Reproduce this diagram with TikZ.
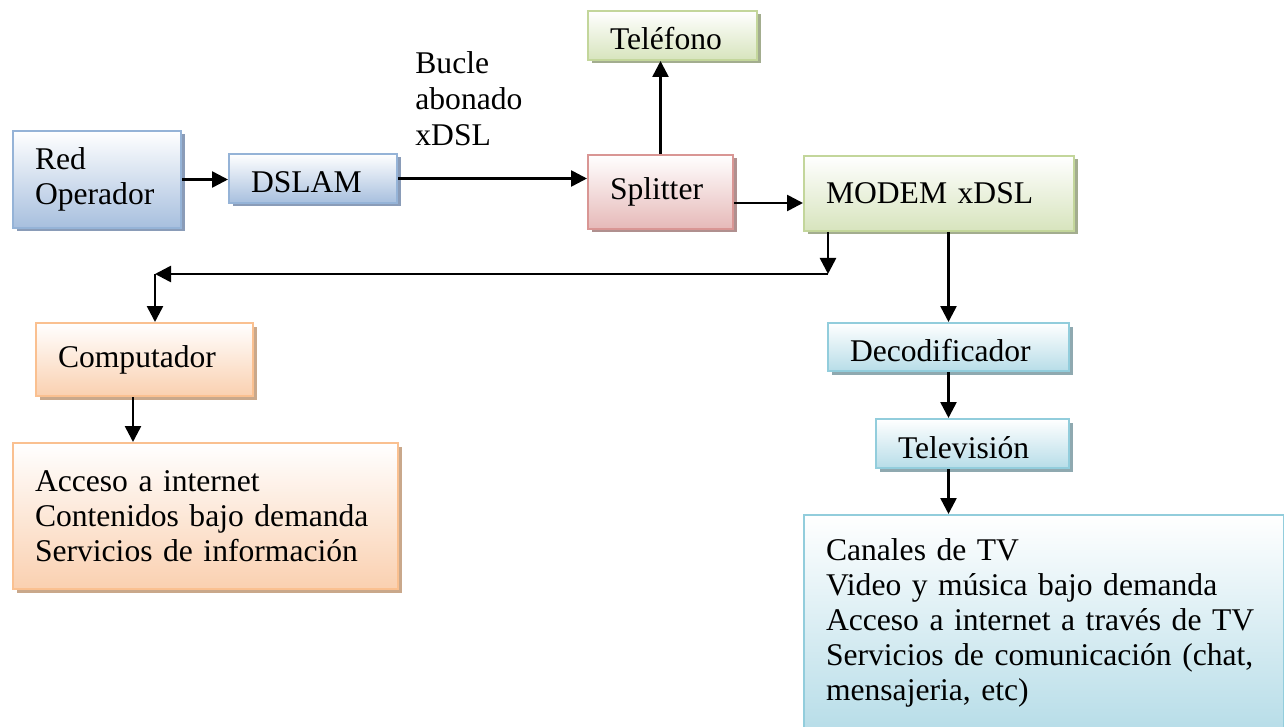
\documentclass[tikz,border=0pt]{standalone}
\usepackage{fontspec}
\setmainfont{Liberation Serif}
\usetikzlibrary{positioning, arrows.meta, shadows}

\definecolor{azulB}{HTML}{95B3D7}
\definecolor{azulF}{HTML}{A7BFDE}
\definecolor{azulS}{HTML}{8A9CB8}
\definecolor{rojoB}{HTML}{D99694}
\definecolor{rojoF}{HTML}{E6B9B8}
\definecolor{rojoS}{HTML}{B0908F}
\definecolor{verdeB}{HTML}{C3D69B}
\definecolor{verdeF}{HTML}{D7E4BD}
\definecolor{verdeS}{HTML}{A3AD8F}
\definecolor{naranjaB}{HTML}{FAC090}
\definecolor{naranjaF}{HTML}{FAD0B0}
\definecolor{naranjaS}{HTML}{C9A88B}
\definecolor{aguaB}{HTML}{92CDDC}
\definecolor{aguaF}{HTML}{B7DDE8}
\definecolor{aguaS}{HTML}{8FA9B0}

\tikzset{
    caja/.style={rectangle, draw=#1B, line width=1pt, top color=white, bottom color=#1F,
        drop shadow={fill=#1S, opacity=1, shadow xshift=1.75pt, shadow yshift=-1.75pt},
        anchor=north west, align=left, inner xsep=11pt, inner ysep=0pt,
        font=\fontsize{15.8}{17.5}\selectfont},
    bajo/.style={text height=14.5pt, text depth=0pt},
    flecha/.style={line width=1.3pt, -{Triangle[length=8pt,width=8pt]}}
}

\begin{document}
\begin{tikzpicture}[x=0.5pt, y=-0.5pt]
    \useasboundingbox (0,0) rectangle (1284,727);
    \clip (0,0) rectangle (1284,727);

    % cajas
    \node[caja=azul, text width=62pt, minimum height=48.5pt] (red) at (12,130) {Red\\Operador};
    \node[caja=azul, bajo, text width=62pt, minimum height=24.5pt] (dslam) at (228,153) {DSLAM};
    \node[caja=rojo, text width=50.5pt, minimum height=37pt] (splitter) at (587,154) {Splitter};
    \node[caja=verde, bajo, text width=62.5pt, minimum height=24.5pt] (telefono) at (587,10) {Teléfono};
    \node[caja=verde, text width=113pt, minimum height=37.5pt] (modem) at (803,155) {MODEM xDSL};
    \node[caja=naranja, text width=86.5pt, minimum height=36.5pt] (comp) at (35,322) {Computador};
    \node[caja=naranja, text width=170.5pt, minimum height=73pt] (internet) at (12,442)
        {Acceso a internet\\Contenidos bajo demanda\\Servicios de información};
    \node[caja=agua, bajo, text width=98.5pt, minimum height=24pt] (dec) at (827,322) {Decodificador};
    \node[caja=agua, bajo, text width=74.5pt, minimum height=24.5pt] (tele) at (875,418) {Televisión};
    \node[caja=agua, text width=218pt, minimum height=108pt] (tvserv) at (803,514)
        {Canales de TV\\Video y música bajo demanda\\Acceso a internet a través de TV\\Servicios de comunicación (chat,\\mensajeria, etc)};

    \node[anchor=north west, align=left, inner sep=0pt, font=\fontsize{15.8}{18}\selectfont] (bucle) at (415,51)
        {Bucle\\abonado\\xDSL};

    % conexiones
    \coordinate (bajada) at (828,274);
    \coordinate (esquina) at (155,274);

    \draw[flecha] (red.east) -- (red.east -| dslam.west);
    \draw[flecha] (dslam.east) -- (dslam.east -| splitter.west);
    \draw[flecha] (splitter.north) -- (splitter.north |- telefono.south);
    \draw[flecha] ([yshift=-5.5pt]splitter.east) -- ([yshift=-5.5pt]splitter.east -| modem.west);
    \draw[flecha] (modem.south -| bajada) -- (bajada);
    \draw[flecha] (bajada) -- (esquina);
    \draw[flecha] (esquina) -- (esquina |- comp.north);
    \draw[flecha] ([xshift=-5.75pt]comp.south) -- ([xshift=-5.75pt]comp.south |- internet.north);
    \draw[flecha] (dec.north |- modem.south) -- (dec.north);
    \draw[flecha] (dec.south) -- (dec.south |- tele.north);
    \draw[flecha] (dec.south |- tele.south) -- (dec.south |- tvserv.north);
\end{tikzpicture}
\end{document}
